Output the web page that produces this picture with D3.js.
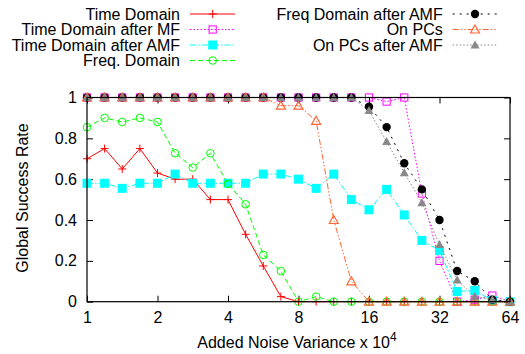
<!DOCTYPE html>
<html><head><meta charset="utf-8">
<script src="https://cdn.jsdelivr.net/npm/d3@7"></script>
<style>
body{margin:0;background:#fff;}
svg{display:block;}
text{font-family:"Liberation Sans",Arial,Helvetica,sans-serif;font-size:16px;fill:#000;}
</style></head><body>
<svg id="c" width="525" height="354"></svg>
<script>
const xValues = [1, 1.189, 1.414, 1.682, 2, 2.378, 2.828, 3.364, 4, 4.757, 5.657, 6.727, 8, 9.514, 11.314, 13.454, 16, 19.027, 22.627, 26.909, 32, 38.055, 45.255, 53.817, 64];
const timeDomain = [0.70,0.75,0.65,0.75,0.63,0.60,0.60,0.50,0.50,0.33,0.175,0.025,0,0,0,0,0,0,0,0,0,0,0,0,0];
const timeDomainMF = [1,1,1,1,1,1,1,1,1,1,1,1,1,1,1,1,1,0.98,1,0.53,0.20,0,0.01,0.03,0];
const timeDomainAMF = [0.58,0.58,0.555,0.58,0.58,0.625,0.58,0.58,0.58,0.58,0.625,0.625,0.60,0.555,0.625,0.50,0.45,0.55,0.425,0.30,0.25,0.05,0.055,0.005,0];
const freqDomain = [0.855,0.90,0.88,0.90,0.88,0.727,0.657,0.727,0.577,0.477,0.229,0.15,0,0.025,0,0,0,0,0,0,0,0,0,0,0];
const freqDomainAMF = [1,1,1,1,1,1,1,1,1,1,1,1,1,1,1,1,0.955,0.855,0.678,0.55,0.40,0.15,0.10,0.01,0];
const onPCs = [1,1,1,1,1,1,1,1,1,1,1,0.96,0.96,0.886,0.40,0.10,0,0,0,0,0,0,0,0,0];
const onPCsAMF = [1,1,1,1,1,1,1,1,1,1,1,1,1,1,1,1,0.936,0.784,0.632,0.485,0.28,0.106,0.025,0.01,0];
const xTicks = [1,2,4,8,16,32,64];
const yTicks = [0,0.2,0.4,0.6,0.8,1];
const yTickLabels = ["0","0.2","0.4","0.6","0.8","1"];

const series = [
  {name:"Time Domain", values:timeDomain, color:"#ff0000", dash:null, marker:"plus"},
  {name:"Time Domain after MF", values:timeDomainMF, color:"#ff00ff", dash:"1.5,2", marker:"osquare"},
  {name:"Time Domain after AMF", values:timeDomainAMF, color:"#00ffff", dash:"6,2,1.5,2", marker:"fsquare"},
  {name:"Freq. Domain", values:freqDomain, color:"#00ff00", dash:"5,3", marker:"ocircle"},
  {name:"Freq Domain after AMF", values:freqDomainAMF, color:"#000000", dash:"2,5", marker:"fcircle"},
  {name:"On PCs", values:onPCs, color:"#ff6633", dash:"6,2,1.5,2,1.5,2", marker:"otri"},
  {name:"On PCs after AMF", values:onPCsAMF, color:"#888888", dash:"1.5,2", marker:"ftri"}
];

const svg = d3.select("#c");
const L=87, R=510, T=97.5, B=301.7;
const x = d3.scaleLog().base(2).domain([1,64]).range([L,R]);
const y = d3.scaleLinear().domain([0,1]).range([B,T]);

const gx = svg.append("g").attr("transform",`translate(0,${B})`)
  .call(d3.axisBottom(x).tickValues(xTicks).tickFormat(d=>String(d)).tickSizeInner(-6).tickSizeOuter(0).tickPadding(10));
const gxt = svg.append("g").attr("transform",`translate(0,${T})`)
  .call(d3.axisTop(x).tickValues(xTicks).tickFormat("").tickSizeInner(-6).tickSizeOuter(0));
const gy = svg.append("g").attr("transform",`translate(${L},0)`)
  .call(d3.axisLeft(y).tickValues(yTicks).tickFormat((d,i)=>yTickLabels[i]).tickSizeInner(-6).tickSizeOuter(0).tickPadding(10));
const gyr = svg.append("g").attr("transform",`translate(${R},0)`)
  .call(d3.axisRight(y).tickValues(yTicks).tickFormat("").tickSizeInner(-6).tickSizeOuter(0));
[gx,gxt,gy,gyr].forEach(g=>{
  g.select(".domain").remove();
  g.selectAll("line").attr("stroke","#000").attr("stroke-width",1);
  g.selectAll("text").style("font-family",'"Liberation Sans",Arial,sans-serif').style("font-size","16px").attr("fill","#000");
});
gx.selectAll("text").attr("dy","0.68em");

function drawMarker(g, type, cx, cy, color){
  const s = 4;
  if(type==="plus"){
    g.append("path").attr("d",`M${cx-s},${cy}H${cx+s}M${cx},${cy-s}V${cy+s}`).attr("stroke",color).attr("stroke-width",1).attr("fill","none");
  } else if(type==="osquare"){
    g.append("rect").attr("x",cx-3.6).attr("y",cy-3.6).attr("width",7.2).attr("height",7.2).attr("fill","none").attr("stroke",color).attr("stroke-width",1);
  } else if(type==="fsquare"){
    g.append("rect").attr("x",cx-4.5).attr("y",cy-4.5).attr("width",9).attr("height",9).attr("fill",color);
  } else if(type==="ocircle"){
    g.append("circle").attr("cx",cx).attr("cy",cy).attr("r",3.8).attr("fill","none").attr("stroke",color).attr("stroke-width",1);
  } else if(type==="fcircle"){
    g.append("circle").attr("cx",cx).attr("cy",cy).attr("r",4.2).attr("fill",color);
  } else if(type==="otri"){
    g.append("path").attr("d",`M${cx},${cy-4.5}L${cx+4.5},${cy+3.5}L${cx-4.5},${cy+3.5}Z`).attr("fill","none").attr("stroke",color).attr("stroke-width",1.2);
  } else if(type==="ftri"){
    g.append("path").attr("d",`M${cx},${cy-4.5}L${cx+4.5},${cy+3.5}L${cx-4.5},${cy+3.5}Z`).attr("fill",color);
  }
}

const line = d3.line().x(d=>x(d[0])).y(d=>y(d[1]));
const plot = svg.append("g");
series.forEach(s=>{
  const pts = xValues.map((xv,i)=>[xv,s.values[i]]);
  const g = plot.append("g");
  g.append("path").attr("d",line(pts)).attr("fill","none").attr("stroke",s.color).attr("stroke-width",1)
    .attr("stroke-dasharray",s.dash);
  pts.forEach(p=>drawMarker(g,s.marker,x(p[0]),y(p[1]),s.color));
});

svg.append("rect").attr("x",L).attr("y",T).attr("width",R-L).attr("height",B-T)
  .attr("fill","none").attr("stroke","#000").attr("stroke-width",1.2);

const leg = svg.append("g");
const cols = [{tx:180, x0:190, x1:235, mx:212.7},{tx:442.7, x0:452.7, x1:496.7, mx:475}];
const rowY = [14, 29.5, 45, 60.5];
series.forEach((s,i)=>{
  const c = i<4 ? cols[0] : cols[1];
  const ry = rowY[i<4 ? i : i-4];
  leg.append("text").attr("x",c.tx).attr("y",ry).attr("dy","0.35em").attr("text-anchor","end").text(s.name);
  leg.append("line").attr("x1",c.x0).attr("x2",c.x1).attr("y1",ry).attr("y2",ry)
    .attr("stroke",s.color).attr("stroke-width",1).attr("stroke-dasharray",s.dash);
  drawMarker(leg,s.marker,c.mx,ry,s.color);
});

svg.append("text").attr("transform","translate(22,198) rotate(-90)").attr("text-anchor","middle").attr("dy","0.35em").text("Global Success Rate");
const xl = svg.append("text").attr("x",297).attr("y",348).attr("text-anchor","middle");
xl.append("tspan").text("Added Noise Variance x 10");
xl.append("tspan").attr("dy","-7").style("font-size","12px").text("4");
</script>
</body></html>
